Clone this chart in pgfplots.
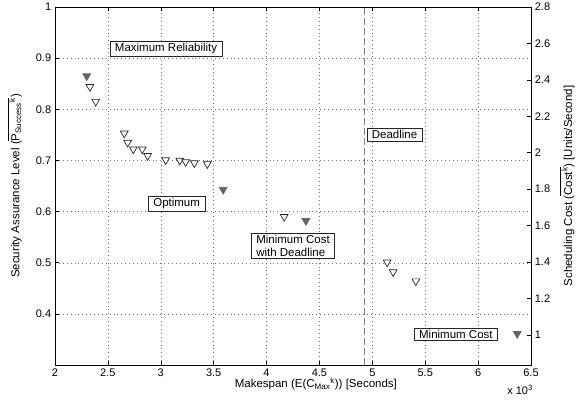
\documentclass[border=0pt]{standalone}
\usepackage{pgfplots}
\pgfplotsset{compat=1.18}
\usepackage{fontspec}
\setmainfont{Liberation Sans}
\definecolor{fillgray}{gray}{0.4}
\definecolor{edgegray}{gray}{0.15}
\begin{document}
\fontsize{11bp}{13bp}\selectfont
\begin{tikzpicture}
\path[use as bounding box] (0,0) rectangle (582bp,402bp);
\begin{axis}[
  at={(55bp,37bp)}, anchor=south west,
  width=476bp, height=358bp, scale only axis,
  xmin=2, xmax=6.5, ymin=0.3, ymax=1,
  xtick={2,2.5,3,3.5,4,4.5,5,5.5,6,6.5},
  xticklabels={2,2.5,3,3.5,4,4.5,5,5.5,6,6.5},
  ytick={0.4,0.5,0.6,0.7,0.8,0.9,1},
  yticklabels={0.4,0.5,0.6,0.7,0.8,0.9,1},
  ytick pos=left, xtick pos=both,
  tick align=inside, major tick length=4bp,
  grid=major,
  major grid style={dash pattern=on 0.9bp off 3bp, gray!90!black},
  axis line style={black, line width=0.6bp},
  tick style={black, line width=0.5bp},
  tick label style={font=\fontsize{11bp}{13bp}\selectfont},
  label style={font=\fontsize{11.5bp}{13bp}\selectfont},
  xlabel={Makespan (E(C\textsubscript{Max}\textsuperscript{k})) [Seconds]},
  xlabel style={at={(axis description cs:0.548,-0.053)}, anchor=center},
  ylabel={Security Assurance Level ($\overline{\hbox{P\textsubscript{Success}\textsuperscript{k}}}$)},
  ylabel style={at={(axis description cs:-0.085,0.5)}, anchor=center},
  clip=false,
]
% deadline
\addplot[gray, line width=0.9bp, dash pattern=on 7bp off 3bp] coordinates {(4.93,0.3) (4.93,1)};
% open markers
\addplot[only marks, mark=triangle*, mark size=4.5bp,
  mark options={rotate=180, fill=white, draw=edgegray, line width=0.7bp}] coordinates {
(2.33,0.844) (2.385,0.815) (2.655,0.753) (2.687,0.735) (2.74,0.722) (2.825,0.722)
(2.876,0.709) (3.046,0.701) (3.18,0.700) (3.235,0.697) (3.317,0.695) (3.44,0.693)
(4.167,0.590) (5.14,0.501) (5.197,0.482) (5.412,0.464)
};
% filled markers
\addplot[only marks, mark=triangle*, mark size=4.5bp,
  mark options={rotate=180, fill=fillgray, draw=fillgray, line width=0.7bp}] coordinates {
(2.30,0.865) (3.59,0.643) (4.372,0.582) (6.37,0.361)
};
\tikzset{lbl/.style={draw=edgegray, fill=white, inner xsep=5bp, inner ysep=2bp, align=center, line width=0.6bp, font=\fontsize{11.5bp}{13bp}\selectfont}}
\node[lbl] at (axis cs:3.05,0.918) {Maximum Reliability};
\node[lbl] at (axis cs:3.15,0.615) {Optimum};
\node[lbl, align=left] at (axis cs:4.25,0.533) {Minimum Cost\\with Deadline};
\node[lbl] at (axis cs:5.21,0.75) {Deadline};
\node[lbl] at (axis cs:5.79,0.36) {Minimum Cost};
\node[font=\fontsize{11bp}{13bp}\selectfont] at (axis description cs:0.977,-0.07) {x 10\textsuperscript{3}};
\end{axis}
\begin{axis}[
  at={(55bp,37bp)}, anchor=south west,
  width=476bp, height=358bp, scale only axis,
  xmin=2, xmax=6.5, ymin=0.835, ymax=2.8,
  axis x line=none, axis y line*=right,
  ytick={1,1.2,1.4,1.6,1.8,2,2.2,2.4,2.6,2.8},
  yticklabels={1,1.2,1.4,1.6,1.8,2,2.2,2.4,2.6,2.8},
  tick align=inside, major tick length=4bp,
  axis line style={black, line width=0.6bp},
  tick style={black, line width=0.5bp},
  tick label style={font=\fontsize{11bp}{13bp}\selectfont},
  label style={font=\fontsize{11.5bp}{13bp}\selectfont},
  ylabel={Scheduling Cost ($\overline{\hbox{Cost\textsuperscript{k}}}$) [Units/Second]},
  ylabel style={at={(axis description cs:1.076,0.5)}, anchor=center, rotate=0},
]
\addplot[draw=none] coordinates {(2,1)};
\end{axis}
\end{tikzpicture}
\end{document}
